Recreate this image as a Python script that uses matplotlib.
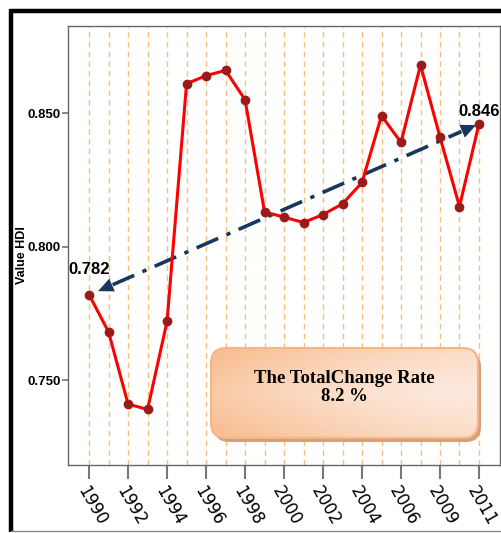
import numpy as np
import matplotlib.pyplot as plt
from matplotlib.patches import FancyBboxPatch
from matplotlib.lines import Line2D

# datos
years = ['1990', '1991', '1992', '1993', '1994', '1995', '1996', '1997', '1998',
         '1999', '2000', '2001', '2002', '2003', '2004', '2005', '2006', '2007',
         '2009', '2010', '2011']
hdi = [0.782, 0.768, 0.741, 0.739, 0.772, 0.861, 0.864, 0.866, 0.855,
       0.813, 0.811, 0.809, 0.812, 0.816, 0.824, 0.849, 0.839, 0.868,
       0.841, 0.815, 0.846]
yticks = [0.750, 0.800, 0.850]
first_label = '0.782'
last_label = '0.846'
box_text = 'The TotalChange Rate\n8.2 %'

narrow = ['Liberation Sans Narrow', 'Liberation Sans', 'DejaVu Sans']
navy = '#17375E'

fig = plt.figure(figsize=(5.02, 5.33), dpi=100)
ax = fig.add_axes([0.1355, 0.1276, 0.8606, 0.8236])

x = np.arange(len(years))

# rejilla vertical naranja
for xi in x:
    ax.axvline(xi, color='#f7a94a', lw=1.0, ls=(0, (4, 3)), alpha=0.75, zorder=1)

# serie principal
ax.plot(x, hdi, color='#ff0000', lw=2.2, zorder=4)
ax.plot(x, hdi, 'o', color='#9b1b1b', ms=6, zorder=5)

# flecha de tendencia (doble punta, linea raya-punto)
p0 = np.array([x[0] + 0.46, hdi[0] + 0.0013])
p1 = np.array([x[-1] - 0.15, hdi[-1] - 0.0005])
ax.plot([p0[0] + 0.75, p1[0] - 0.75], [p0[1] + 0.0024, p1[1] - 0.0024],
        color=navy, lw=2.6, dashes=(6.5, 2.5, 1.2, 2.5), zorder=3,
        solid_capstyle='butt', dash_capstyle='butt')
ax.annotate('', xy=p0, xytext=(p0[0] + 1.0, p0[1] + 0.0032),
            arrowprops=dict(arrowstyle='-|>,head_length=1.1,head_width=0.5',
                            color=navy, lw=0, shrinkA=0, shrinkB=0), zorder=3)
ax.annotate('', xy=p1, xytext=(p1[0] - 1.0, p1[1] - 0.0032),
            arrowprops=dict(arrowstyle='-|>,head_length=1.1,head_width=0.5',
                            color=navy, lw=0, shrinkA=0, shrinkB=0), zorder=3)

# etiquetas de extremos
ax.text(x[0], hdi[0] + 0.0065, first_label, ha='center', va='bottom',
        fontsize=12, fontweight='bold', family=narrow, zorder=6)
ax.text(x[-1], hdi[-1] + 0.0018, last_label, ha='center', va='bottom',
        fontsize=12, fontweight='bold', family=narrow, zorder=6)

# cuadro con degradado
bx0, by0, bw, bh = 0.331, 0.0615, 0.618, 0.205
shadow = FancyBboxPatch((bx0 + 0.007, by0 - 0.009), bw, bh,
                        boxstyle='round,pad=0,rounding_size=0.035',
                        transform=ax.transAxes, fc='#d2a07c', ec='none', zorder=6)
ax.add_patch(shadow)
box = FancyBboxPatch((bx0, by0), bw, bh, boxstyle='round,pad=0,rounding_size=0.035',
                     transform=ax.transAxes, fc='none', ec='#f5b584', lw=1.5, zorder=8)
ax.add_patch(box)
u, v = np.meshgrid(np.linspace(0, 1, 200), np.linspace(0, 1, 80))
w = np.clip(0.75 * (1 - u) ** 1.5 + 0.9 * np.abs(v - 0.5) ** 1.3, 0, 1)
light = np.array([0xfd, 0xea, 0xde]) / 255
dark = np.array([0xf8, 0xbf, 0x94]) / 255
img = light[None, None, :] * (1 - w[..., None]) + dark[None, None, :] * w[..., None]
im = ax.imshow(img, extent=[bx0, bx0 + bw, by0, by0 + bh], transform=ax.transAxes,
               origin='lower', aspect='auto', zorder=7, interpolation='bilinear')
im.set_clip_path(box)
ax.text(bx0 + bw / 2, by0 + bh * 0.56, box_text, transform=ax.transAxes,
        ha='center', va='center', fontsize=13.5, fontweight='bold',
        family='Liberation Serif', linespacing=1.12, zorder=9)

# ejes
ax.set_xlim(-1.08, 21.08)
ax.set_ylim(0.7182, 0.8826)
ax.set_xticks(x[::2])
ax.set_xticklabels(years[:17:2] + years[18::2], rotation=-60, ha='left', va='top',
                   rotation_mode='anchor', fontsize=12)
ax.set_yticks(yticks)
ax.set_yticklabels(['%.3f' % t for t in yticks], fontsize=9.5, fontweight='bold',
                   family=narrow)
ax.tick_params(axis='x', length=10, width=1.5, color='#777777', pad=3)
ax.tick_params(axis='y', length=4, width=1.2, color='#777777', pad=1)
for s in ax.spines.values():
    s.set_color('#666666')
    s.set_linewidth(1.0)
ax.set_ylabel('Value HDI', fontsize=9, fontweight='bold', family='Liberation Sans')
ax.yaxis.set_label_coords(-0.093, 0.478)

# marco de la figura
fig.add_artist(Line2D([11 / 502, 11 / 502], [1 - 9 / 533, 1 / 533], color='black',
                      lw=3.2, transform=fig.transFigure, solid_capstyle='butt'))
fig.add_artist(Line2D([9.5 / 502, 1], [1 - 11 / 533, 1 - 11 / 533], color='black',
                      lw=3.2, transform=fig.transFigure, solid_capstyle='butt'))
fig.add_artist(Line2D([11 / 502, 1], [2 / 533, 2 / 533], color='#888888',
                      lw=1.0, transform=fig.transFigure))

fig.savefig('out.png', dpi=100)
